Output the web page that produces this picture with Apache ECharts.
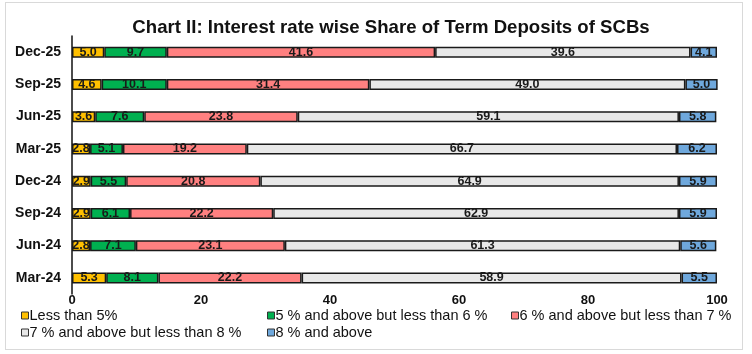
<!DOCTYPE html>
<html>
<head>
<meta charset="utf-8">
<script src="https://cdn.jsdelivr.net/npm/echarts@6/dist/echarts.min.js"></script>
<style>
  html, body { margin: 0; padding: 0; background: #fff; }
  #frame { position: absolute; left: 5px; top: 2px; width: 736px; height: 346px; border: 1px solid #d9d9d9; }
  #chart { position: absolute; left: 0; top: 0; width: 752px; height: 354px; }
</style>
</head>
<body>
<div id="frame"></div>
<div id="chart"></div>
<script>
// 期次（自上而下）
var quarters = ['Dec-25', 'Sep-25', 'Jun-25', 'Mar-25', 'Dec-24', 'Sep-24', 'Jun-24', 'Mar-24'];
var seriesNames = [
	'Less than 5%',
	'5 % and above but less than 6 %',
	'6 % and above but less than 7 %',
	'7 % and above but less than 8 %',
	'8 % and above'
];
var lessThan5 = [5.0, 4.6, 3.6, 2.8, 2.9, 2.9, 2.8, 5.3];
var from5to6 = [9.7, 10.1, 7.6, 5.1, 5.5, 6.1, 7.1, 8.1];
var from6to7 = [41.6, 31.4, 23.8, 19.2, 20.8, 22.2, 23.1, 22.2];
var from7to8 = [39.6, 49.0, 59.1, 66.7, 64.9, 62.9, 61.3, 58.9];
var above8 = [4.1, 5.0, 5.8, 6.2, 5.9, 5.9, 5.6, 5.5];
var xTicks = [0, 20, 40, 60, 80, 100];

var values = [lessThan5, from5to6, from6to7, from7to8, above8];
var colors = ['#FFC000', '#00B050', '#FF8080', '#E8E8E8', '#6FA8DC'];
var font = '"Liberation Sans", Arial, sans-serif';

var myChart = echarts.init(document.getElementById('chart'));

var series = [];
for (var i = 0; i < values.length; i++) {
	series.push({
		name: seriesNames[i],
		type: 'bar',
		stack: 'total',
		barWidth: 11,
		data: values[i],
		itemStyle: { color: colors[i], borderColor: '#1a1a1a', borderWidth: 1.5 },
		label: {
			show: true,
			position: 'inside',
			color: '#1a1a1a',
			fontFamily: font,
			fontWeight: 'bold',
			fontSize: 12.5,
			formatter: function (p) { return p.value.toFixed(1); }
		},
		emphasis: { disabled: true }
	});
}

// 图例分列摆放
var legendPos = [[21, 308], [267, 308], [511, 308], [21, 325], [267, 325]];
var legends = seriesNames.map(function (name, i) {
	return {
		data: [name],
		left: legendPos[i][0],
		top: legendPos[i][1],
		padding: 0,
		icon: 'rect',
		itemWidth: 7,
		itemHeight: 7,
		itemGap: 4,
		itemStyle: { borderColor: '#333', borderWidth: 1 },
		textStyle: { fontFamily: font, fontSize: 14.5, color: '#111', padding: [0, 0, 0, -4] },
		selectedMode: false
	};
});

var option = {
	animation: false,
	title: {
		text: 'Chart II: Interest rate wise Share of Term Deposits of SCBs',
		left: 386,
		top: 13,
		textAlign: 'center',
		textStyle: { fontFamily: font, fontWeight: 'bold', fontSize: 18.6, color: '#111' }
	},
	legend: legends,
	grid: { left: 72, right: 35, top: 36, bottom: 60 },
	xAxis: {
		type: 'value',
		min: 0,
		max: 100,
		interval: 20,
		splitLine: { show: false },
		axisLine: { show: false },
		axisTick: { show: false },
		axisLabel: {
			margin: 0,
			fontFamily: font,
			fontWeight: 'bold',
			fontSize: 13,
			color: '#111',
			formatter: function (v) { return xTicks.indexOf(v) >= 0 ? String(v) : ''; }
		}
	},
	yAxis: {
		type: 'category',
		inverse: true,
		data: quarters,
		axisLine: { show: true, lineStyle: { color: '#111', width: 1.5 } },
		axisTick: { show: false },
		axisLabel: { margin: 11, fontFamily: font, fontWeight: 'bold', fontSize: 14, color: '#111' }
	},
	series: series
};

myChart.setOption(option);
</script>
</body>
</html>
